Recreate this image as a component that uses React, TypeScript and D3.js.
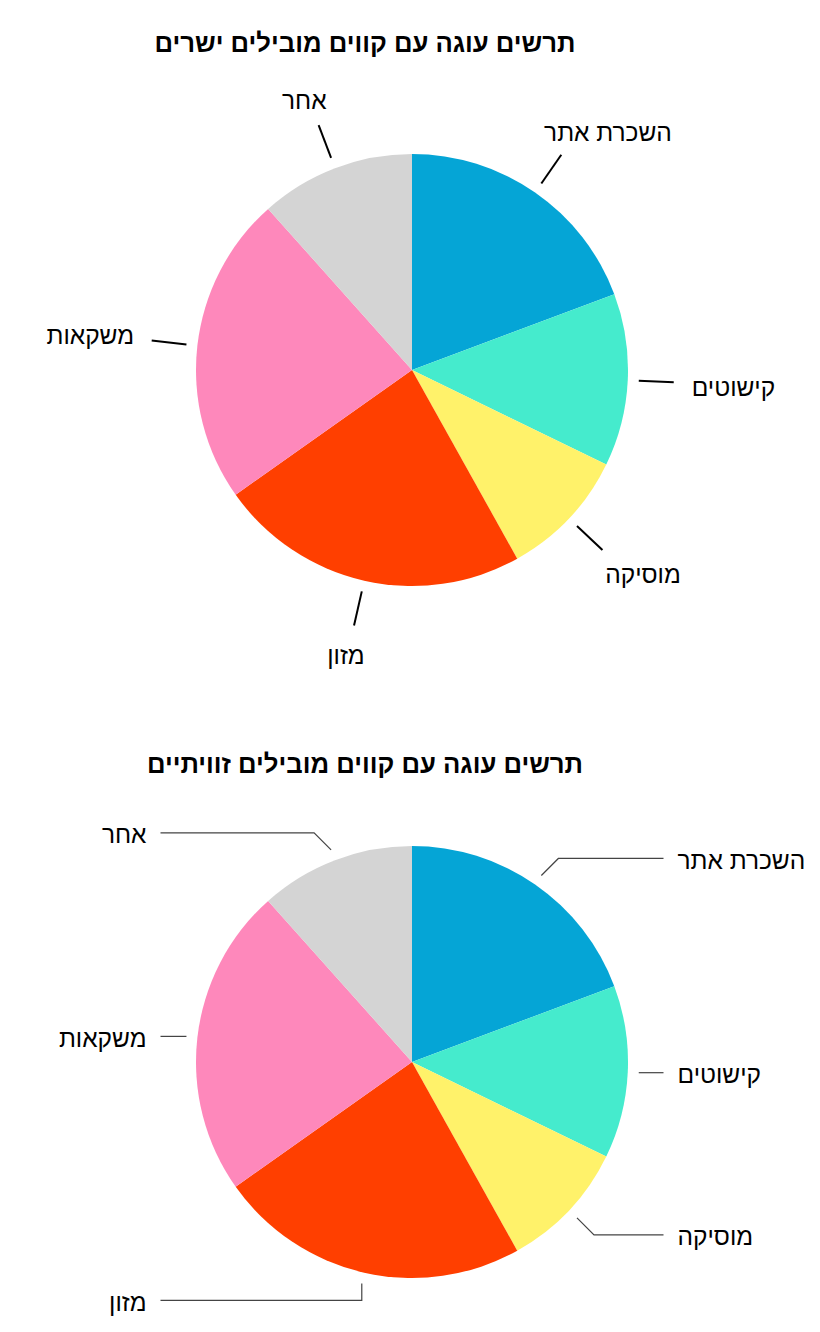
import React, { useEffect, useRef } from "react";
import * as d3 from "d3";

const categories = ["השכרת אתר", "קישוטים", "מוסיקה", "מזון", "משקאות", "אחר"];
const values = [19.3, 12.9, 9.7, 23.3, 23.2, 11.6];
const colors = ["#05A5D6", "#45EBCD", "#FFF26A", "#FF3F00", "#FE88BB", "#D4D4D4"];
const titles = [
  "תרשים עוגה עם קווים מובילים ישרים",
  "תרשים עוגה עם קווים מובילים זוויתיים",
];

const W = 820;
const H = 1332;
const FONT = "'Liberation Sans', Arial, sans-serif";
const LABEL_SIZE = 24.5;
const TITLE_SIZE = 25.7;

export default function App() {
  const ref = useRef<SVGSVGElement | null>(null);

  useEffect(() => {
    const svg = d3.select(ref.current);
    svg.selectAll("*").remove();

    const R = 216;
    const cx = 412;
    const centers = [370, 1062];
    const titleY = [52, 773];
    const titleX = 365;

    const pie = d3
      .pie<number>()
      .sort(null)
      .value((d) => d)
      .startAngle(0)
      .endAngle(2 * Math.PI);
    const arcs = pie(values);
    const arc = d3.arc<d3.PieArcDatum<number>>().innerRadius(0).outerRadius(R);

    centers.forEach((cy, k) => {
      svg
        .append("text")
        .attr("x", titleX)
        .attr("y", titleY[k])
        .attr("text-anchor", "middle")
        .attr("font-family", FONT)
        .attr("font-weight", "bold")
        .attr("font-size", TITLE_SIZE)
        .attr("fill", "#000")
        .text(titles[k]);

      const g = svg.append("g").attr("transform", `translate(${cx},${cy})`);
      g.selectAll("path.slice")
        .data(arcs)
        .join("path")
        .attr("class", "slice")
        .attr("d", arc as any)
        .attr("fill", (_, i) => colors[i]);

      arcs.forEach((a, i) => {
        const mid = (a.startAngle + a.endAngle) / 2;
        const ux = Math.sin(mid);
        const uy = -Math.cos(mid);
        const r0 = 227;
        if (k === 0) {
          // straight leader lines
          const rEnd = 262;
          const R0 = 280;
          g.append("line")
            .attr("x1", ux * r0)
            .attr("y1", uy * r0)
            .attr("x2", ux * rEnd)
            .attr("y2", uy * rEnd)
            .attr("stroke", "#000")
            .attr("stroke-width", 2);
          const t = g
            .append("text")
            .attr("font-family", FONT)
            .attr("font-size", LABEL_SIZE)
            .attr("fill", "#000")
            .attr("text-anchor", "middle")
            .text(categories[i]);
          const w = (t.node() as SVGTextElement).getComputedTextLength();
          const h = 20;
          const tt = Math.min(
            Math.abs(ux) > 1e-6 ? w / 2 / Math.abs(ux) : Infinity,
            Math.abs(uy) > 1e-6 ? h / 2 / Math.abs(uy) : Infinity
          );
          const x = ux * (R0 + w / 2);
          const y = uy * (R0 + tt);
          t.attr("x", x).attr("y", y + 11);
        } else {
          // angled leader lines
          const ax = ux * r0;
          const ay = uy * r0;
          let ex = ax;
          let ey = ay;
          const seg = 17;
          if (Math.abs(ux) > Math.sin((67.5 * Math.PI) / 180)) {
            // horizontal
          } else if (Math.abs(ux) < Math.sin((15 * Math.PI) / 180)) {
            ey = ay + Math.sign(uy) * seg;
          } else {
            ex = ax + Math.sign(ux) * seg;
            ey = ay + Math.sign(uy) * seg;
          }
          const side = ux >= 0 ? 1 : -1;
          const lx = side * 251.5;
          const path = d3.path();
          path.moveTo(ax, ay);
          path.lineTo(ex, ey);
          path.lineTo(lx, ey);
          g.append("path")
            .attr("d", path.toString())
            .attr("fill", "none")
            .attr("stroke", "#444")
            .attr("stroke-width", 1.2);
          g.append("text")
            .attr("x", side * 265.5)
            .attr("y", ey + 10.5)
            .attr("text-anchor", side > 0 ? "start" : "end")
            .attr("font-family", FONT)
            .attr("font-size", LABEL_SIZE)
            .attr("fill", "#000")
            .text(categories[i]);
        }
      });
    });
  }, []);

  return (
    <svg
      ref={ref}
      width={W}
      height={H}
      style={{ position: "absolute", left: 0, top: 0, background: "#fff" }}
    />
  );
}
